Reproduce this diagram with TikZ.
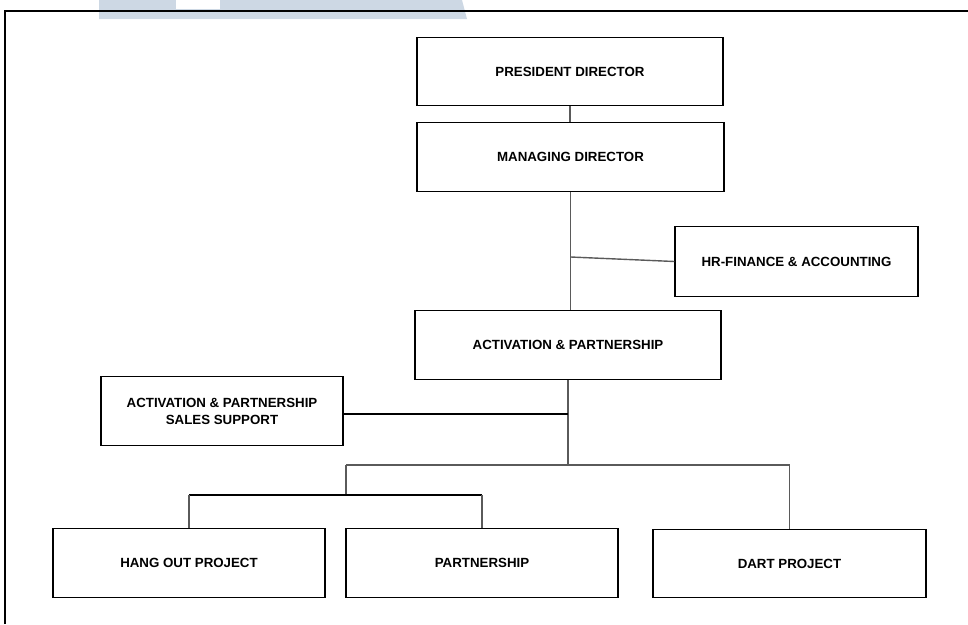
\documentclass[tikz,border=0pt]{standalone}
\usepackage{fontspec}
\setmainfont{Liberation Sans}
\definecolor{markblue}{HTML}{CDD8E4}
\definecolor{linkgray}{HTML}{5A5A5A}
\begin{document}
\begin{tikzpicture}[x=1pt, y=-1pt,
  unit/.style = {shape=rectangle, draw=black, line width=1.1pt, fill=white,
    minimum width=306pt, minimum height=68pt, align=center, inner sep=2pt,
    font=\fontsize{13.3}{17}\selectfont\bfseries},
  link/.style = {draw=linkgray, line width=1.4pt}]
  \useasboundingbox (0,0) rectangle (968,624);
  % watermark band and page frame
  \fill[markblue] (99,0) -- (462,0) -- (467,19) -- (99,19) -- cycle;
  \fill[white] (176,0) rectangle (220,9);
  \draw[black, line width=1.2pt] (5,624) -- (5,11) -- (968,11);
  % units
  \node[unit] (president) at (570,71.5) {PRESIDENT DIRECTOR};
  \node[unit, minimum width=307pt, minimum height=69pt] (managing) at (570.5,157) {MANAGING DIRECTOR};
  \node[unit, minimum width=243pt, minimum height=70pt] (hrfin) at (796.5,261.5) {HR-FINANCE \& ACCOUNTING};
  \node[unit, minimum height=69pt] (activation) at (568,345) {ACTIVATION \& PARTNERSHIP};
  \node[unit, minimum width=242pt, minimum height=69pt] (salessupport) at (222,411) {ACTIVATION \& PARTNERSHIP\\SALES SUPPORT};
  \node[unit, minimum width=272pt, minimum height=69pt] (hangout) at (189,563) {HANG OUT PROJECT};
  \node[unit, minimum width=272pt, minimum height=69pt] (partnership) at (482,563) {PARTNERSHIP};
  \node[unit, minimum width=273pt] (dart) at (789.5,563.5) {DART PROJECT};
  % joints
  \coordinate (hrjoin) at (570.5,257);
  \coordinate (salesjoin) at (568,414);
  \coordinate (projbus) at (568,465);
  \coordinate (leftbus) at (346,465);
  \coordinate (pairbus) at (346,495);
  % connectors
  \draw[link] (president.south) -- (president.south |- managing.north);
  \draw[link] (managing.south) -- (managing.south |- activation.north);
  \draw[link] (hrjoin) -- (hrfin.west);
  \draw[link] (activation.south) -- (projbus);
  \draw[link, draw=black] (salessupport.east |- salesjoin) -- (salesjoin);
  \draw[link] (leftbus) -- (dart.north |- leftbus) -- (dart.north);
  \draw[link] (leftbus) -- (pairbus);
  \draw[link, draw=black] (hangout.north |- pairbus) -- (partnership.north |- pairbus);
  \draw[link] (hangout.north |- pairbus) -- (hangout.north);
  \draw[link] (partnership.north |- pairbus) -- (partnership.north);
\end{tikzpicture}
\end{document}
